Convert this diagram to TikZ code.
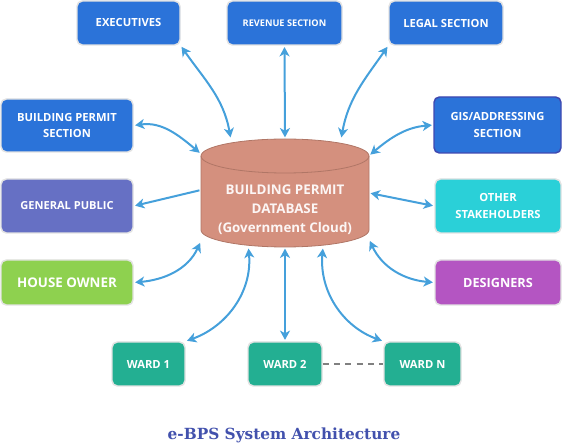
\documentclass[tikz,border=0pt]{standalone}
\usepackage{fontspec}
\setmainfont{Open Sans}
\newfontfamily\titlefont{DejaVu Serif}
\usetikzlibrary{arrows.meta}

\definecolor{boxblue}{HTML}{2B73D9}
\definecolor{boxedge}{HTML}{E2E2E2}
\definecolor{gisedge}{HTML}{3F48B0}
\definecolor{publicviolet}{HTML}{6670C4}
\definecolor{othercyan}{HTML}{2AD0D8}
\definecolor{ownergreen}{HTML}{8ED14F}
\definecolor{designpurple}{HTML}{B455C2}
\definecolor{wardteal}{HTML}{23AF92}
\definecolor{dbfill}{HTML}{D4907E}
\definecolor{dbedge}{HTML}{B07666}
\definecolor{linkblue}{HTML}{45A0DB}
\definecolor{titleblue}{HTML}{4251AD}

\begin{document}
\begin{tikzpicture}[x=0.75pt, y=0.75pt,
    >={Stealth[length=7pt, width=7.5pt, inset=2pt]},
    box/.style={draw=boxedge, line width=1.1pt, rounded corners=4pt, text=white, align=center, inner sep=0pt, font=\bfseries\fontsize{8.4}{12.5}\selectfont},
    link/.style={draw=linkblue, line width=1.5pt, <->, shorten <=1pt, shorten >=1pt}]
    \useasboundingbox (0,0) rectangle (562,-445);

    % database cylinder
    \filldraw [fill=dbfill, draw=dbedge, line width=0.6pt] (201,-156) -- (201,-230) arc [start angle=180, end angle=360, x radius=84, y radius=17] -- (369,-156) arc [start angle=0, end angle=180, x radius=84, y radius=17] -- cycle;
    \draw [dbedge, line width=0.6pt] (369,-156) arc [start angle=0, end angle=-180, x radius=84, y radius=17];
    \node [minimum width=126pt, minimum height=81pt, inner sep=0pt] (db) at (285,-193) {};
    \node [text=white!92!dbfill, align=center, font=\bfseries\fontsize{10}{14.25}\selectfont] (dblabel) at (285,-210) {BUILDING PERMIT\\DATABASE\\(Government Cloud)};

    % top row
    \node [box, fill=boxblue, minimum width=77.25pt, minimum height=33pt] (exec) at (128.5,-23) {EXECUTIVES};
    \node [box, fill=boxblue, minimum width=86.25pt, minimum height=33pt, font=\bfseries\fontsize{6.9}{9}\selectfont] (revenue) at (284.5,-23) {REVENUE SECTION};
    \node [box, fill=boxblue, minimum width=85.5pt, minimum height=33pt] (legal) at (446,-23) {LEGAL SECTION};

    % left column
    \node [box, fill=boxblue, minimum width=99pt, minimum height=39.75pt] (bpsec) at (67,-125.5) {BUILDING PERMIT\\SECTION};
    \node [box, fill=publicviolet, minimum width=99pt, minimum height=40.5pt, font=\bfseries\fontsize{8.3}{12}\selectfont] (public) at (67,-206) {GENERAL PUBLIC};
    \node [box, fill=ownergreen, minimum width=99pt, minimum height=33.75pt, font=\bfseries\fontsize{10}{12}\selectfont] (owner) at (67,-282.5) {HOUSE OWNER};

    % right column
    \node [box, draw=gisedge, fill=boxblue, minimum width=95.25pt, minimum height=42pt] (gis) at (497.5,-125) {GIS/ADDRESSING\\SECTION};
    \node [box, fill=othercyan, minimum width=94.5pt, minimum height=40.5pt] (others) at (498,-206) {OTHER\\STAKEHOLDERS};
    \node [box, fill=designpurple, minimum width=94.5pt, minimum height=33.75pt, font=\bfseries\fontsize{9.5}{12}\selectfont] (designers) at (498,-282.5) {DESIGNERS};

    % wards
    \node [box, fill=wardteal, minimum width=54.75pt, minimum height=33pt] (ward1) at (148.5,-364) {WARD 1};
    \node [box, fill=wardteal, minimum width=55.5pt, minimum height=33pt] (ward2) at (285,-364) {WARD 2};
    \node [box, fill=wardteal, minimum width=57.75pt, minimum height=33pt] (wardn) at (422.5,-364) {WARD N};
    \draw [gray, line width=1.1pt, dash pattern=on 4.5pt off 4pt] (ward2.east) -- (wardn.west);

    % connectors
    \draw [link] (exec.south east) to [out=-55, in=100] (db.135.5);
    \draw [link] (revenue.south) -- (db.north);
    \draw [link] (legal.south west) to [out=-125, in=80] (db.44.5);
    \draw [link] (bpsec.east) to [out=8, in=140] (db.155.7);
    \draw [link] (gis.west) to [out=185, in=40] (db.24.3);
    \draw [link, <-] (public.east) -- (db.178);
    \draw [link] (db.east) -- (others.west);
    \draw [link] (db.210.9) to [out=-115, in=5] (owner.east);
    \draw [link] (db.-29.1) to [out=-65, in=175] (designers.west);
    \draw [link] (db.-124.4) to [out=-85, in=20] (ward1.north east);
    \draw [link] (db.south) -- (ward2.north);
    \draw [link] (db.-55.6) to [out=-95, in=160] (wardn.north west);

    \node [text=titleblue, font=\titlefont\bfseries\fontsize{11.5}{13}\selectfont] (title) at (284,-435) {e-BPS System Architecture};
\end{tikzpicture}
\end{document}
